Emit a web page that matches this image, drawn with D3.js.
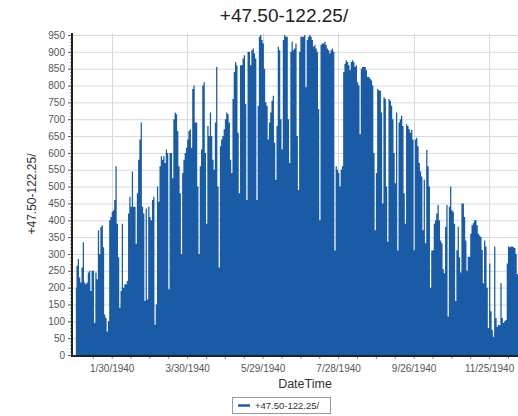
<!DOCTYPE html>
<html>
<head>
<meta charset="utf-8">
<script src="https://cdn.jsdelivr.net/npm/d3@7"></script>
<style>
  body { margin: 0; background: #fff; }
  svg { display: block; font-family: "Liberation Sans", Arial, sans-serif; }
</style>
</head>
<body>
<svg id="chart" width="518" height="416"></svg>
<script>
// daily peak values (one value per day)
const jan = [200, 265, 285, 230, 215, 260, 335, 215, 210, 215, 245, 250, 190, 250, 250, 95, 245, 225, 370, 300, 380, 385, 320, 120, 110, 70, 100, 400, 410, 425, 430];
const feb = [460, 560, 390, 290, 140, 190, 390, 200, 210, 210, 220, 420, 470, 440, 545, 440, 440, 330, 480, 580, 640, 690, 440, 420, 160, 435, 165, 440, 410];
const mar = [400, 460, 470, 90, 150, 500, 455, 560, 590, 580, 590, 570, 610, 600, 195, 600, 600, 525, 700, 720, 715, 665, 560, 480, 300, 540, 580, 600, 615, 640, 665];
const apr = [670, 615, 790, 800, 690, 690, 500, 300, 560, 610, 800, 810, 600, 390, 680, 650, 720, 650, 580, 550, 690, 855, 500, 260, 620, 640, 650, 670, 700, 720];
const may = [715, 690, 580, 540, 760, 840, 870, 860, 660, 480, 860, 860, 880, 890, 745, 460, 900, 900, 860, 905, 910, 895, 880, 460, 740, 945, 950, 935, 925, 850, 750];
const jun = [740, 640, 690, 720, 755, 770, 630, 520, 680, 915, 905, 700, 610, 935, 950, 945, 945, 700, 570, 900, 930, 905, 910, 925, 650, 490, 900, 945, 945, 945];
const jul = [950, 795, 935, 945, 950, 945, 935, 915, 920, 910, 900, 730, 400, 920, 925, 925, 930, 920, 910, 905, 895, 905, 910, 900, 310, 560, 550, 540, 500, 550, 560];
const aug = [840, 865, 875, 870, 860, 845, 870, 875, 870, 855, 860, 810, 800, 655, 850, 855, 855, 855, 845, 825, 825, 820, 815, 800, 600, 370, 540, 790, 785, 785, 720];
const sep = [450, 765, 760, 500, 336, 760, 755, 740, 700, 600, 510, 720, 310, 690, 700, 710, 680, 480, 390, 685, 680, 670, 660, 668, 640, 311, 640, 645, 620, 570];
const oct = [545, 530, 370, 520, 332, 609, 560, 500, 200, 310, 311, 390, 400, 420, 445, 400, 340, 332, 255, 243, 380, 445, 114, 440, 500, 430, 425, 390, 160, 311, 381];
const nov = [290, 245, 450, 450, 410, 340, 250, 292, 292, 360, 385, 391, 400, 400, 385, 360, 355, 350, 312, 213, 340, 322, 200, 80, 272, 130, 75, 54, 322, 110];
const dec = [84, 90, 88, 213, 110, 95, 100, 104, 272, 322, 320, 322, 322, 320, 318, 300, 240, 320, 320];

const tickLabels = ["1/30/1940", "3/30/1940", "5/29/1940", "7/28/1940", "9/26/1940", "11/25/1940"];
const seriesName = "+47.50-122.25/";

// build the daily series
const months = [jan, feb, mar, apr, may, jun, jul, aug, sep, oct, nov, dec];
const series = [];
months.forEach(function (m, mi) {
    m.forEach(function (v, di) {
        series.push({ date: new Date(1940, mi, di + 1, 12), value: v });
    });
});

const svg = d3.select("#chart");
const W = 518;
const plotLeft = 72, plotTop = 35, plotBottom = 355;

const x = d3.scaleTime()
    .domain([new Date(1940, 0, 1), new Date(1941, 0, 1)])
    .range([75.2, 75.2 + 366 * 1.258]);

const y = d3.scaleLinear()
    .domain([0, 950])
    .range([plotBottom, plotTop]);

const parseDate = d3.timeParse("%m/%d/%Y");
const tickDates = tickLabels.map(parseDate);
const minorDates = d3.range(-2, 24).map(i => d3.timeDay.offset(tickDates[0], i * 15))
    .filter(d => x(d) > plotLeft + 2 && x(d) < W);

// gridlines
svg.append("g")
    .selectAll("line")
    .data(d3.range(50, 951, 50))
    .enter().append("line")
    .attr("x1", plotLeft).attr("x2", W)
    .attr("y1", d => y(d) + 0.5).attr("y2", d => y(d) + 0.5)
    .attr("stroke", "#d9d9d9");

svg.append("g")
    .selectAll("line")
    .data(tickDates)
    .enter().append("line")
    .attr("x1", d => Math.round(x(d)) + 0.5).attr("x2", d => Math.round(x(d)) + 0.5)
    .attr("y1", plotTop - 2).attr("y2", plotBottom)
    .attr("stroke", "#d9d9d9");

// area
svg.append("clipPath").attr("id", "clip")
    .append("rect").attr("x", plotLeft).attr("y", 0).attr("width", W - plotLeft).attr("height", plotBottom + 1);

const area = d3.area()
    .curve(d3.curveStep)
    .x(d => x(d.date))
    .y0(y(0))
    .y1(d => y(d.value));

svg.append("path")
    .datum(series)
    .attr("clip-path", "url(#clip)")
    .attr("fill", "#1a5ba6")
    .attr("d", area);

// y axis
const yAxis = svg.append("g")
    .attr("transform", "translate(" + plotLeft + ",0)")
    .call(d3.axisLeft(y).tickValues(d3.range(0, 951, 50)).tickSize(4).tickPadding(3));
yAxis.selectAll("text").attr("fill", "#555").style("font-size", "10px");
yAxis.selectAll(".tick line").attr("stroke", "#555");
yAxis.select(".domain").remove();

svg.append("g")
    .attr("transform", "translate(" + plotLeft + ",0)")
    .call(d3.axisLeft(y).tickValues(d3.range(0, 951, 10)).tickSize(2).tickFormat(""))
    .call(g => g.select(".domain").remove())
    .selectAll(".tick line").attr("stroke", "#888");

svg.append("line")
    .attr("x1", plotLeft).attr("x2", plotLeft)
    .attr("y1", plotTop - 2).attr("y2", plotBottom + 2)
    .attr("stroke", "#222").attr("stroke-width", 2);

// x axis
const xAxis = svg.append("g")
    .attr("transform", "translate(0," + (plotBottom + 1) + ")")
    .call(d3.axisBottom(x).tickValues(tickDates).tickSize(0).tickPadding(9)
        .tickFormat((d, i) => tickLabels[i]));
xAxis.select(".domain").remove();
xAxis.selectAll("text").attr("fill", "#555").style("font-size", "10px");

svg.append("g")
    .attr("transform", "translate(0," + (plotBottom + 1) + ")")
    .call(d3.axisBottom(x).tickValues(minorDates).tickSize(3).tickFormat(""))
    .call(g => g.select(".domain").remove())
    .selectAll(".tick line").attr("stroke", "#888");

svg.append("line")
    .attr("x1", plotLeft - 1).attr("x2", W)
    .attr("y1", plotBottom + 1).attr("y2", plotBottom + 1)
    .attr("stroke", "#222").attr("stroke-width", 2);

// titles
svg.append("text")
    .attr("x", 284).attr("y", 22)
    .attr("text-anchor", "middle")
    .attr("fill", "#222")
    .style("font-size", "19px")
    .text(seriesName);

svg.append("text")
    .attr("transform", "translate(36,194) rotate(-90)")
    .attr("text-anchor", "middle")
    .attr("fill", "#333")
    .style("font-size", "12px")
    .text(seriesName);

svg.append("text")
    .attr("x", 305).attr("y", 388)
    .attr("text-anchor", "middle")
    .attr("fill", "#333")
    .style("font-size", "12.5px")
    .text("DateTime");

// legend
const legend = svg.append("g").attr("transform", "translate(232,397)");
legend.append("rect")
    .attr("x", 0.5).attr("y", 0.5).attr("width", 98).attr("height", 16)
    .attr("fill", "#fff").attr("stroke", "#999");
legend.append("line")
    .attr("x1", 6).attr("x2", 18).attr("y1", 8.5).attr("y2", 8.5)
    .attr("stroke", "#1a5ba6").attr("stroke-width", 2.5);
legend.append("text")
    .attr("x", 23).attr("y", 12)
    .attr("fill", "#333")
    .style("font-size", "9.5px")
    .text(seriesName);
</script>
</body>
</html>
